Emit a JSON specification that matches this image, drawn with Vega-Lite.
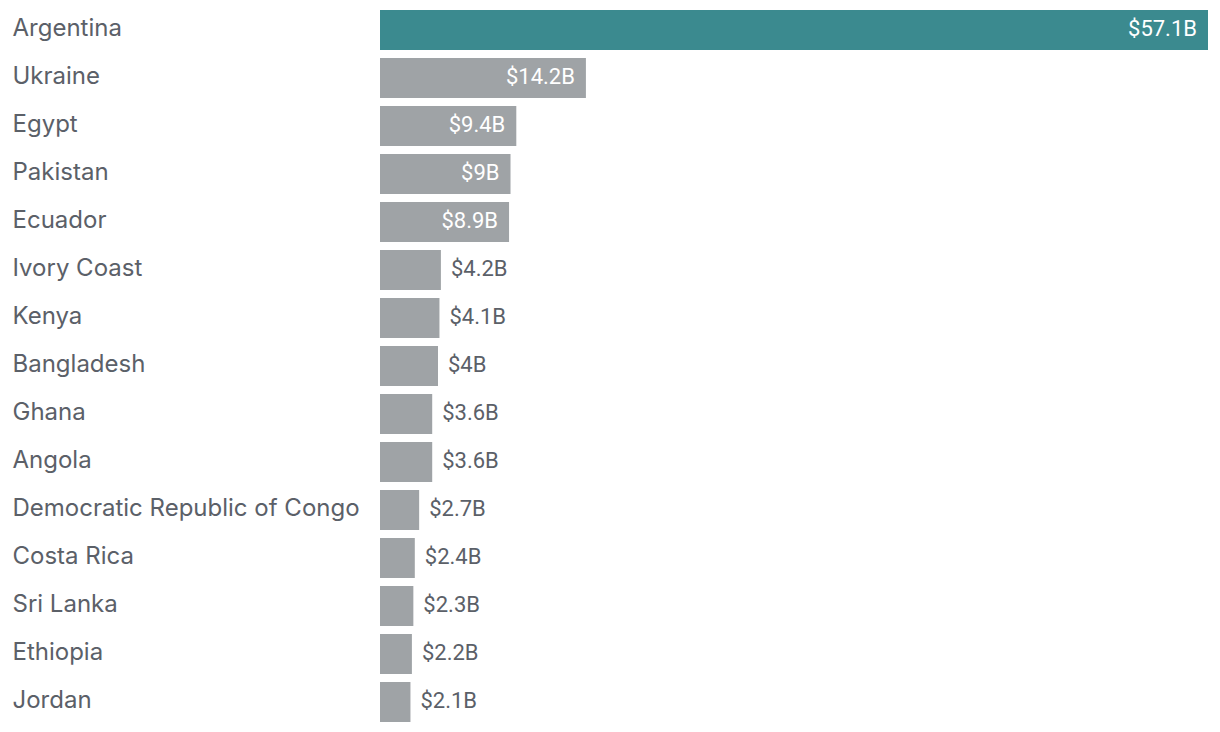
{
  "$schema": "https://vega.github.io/schema/vega-lite/v6.json",
  "autosize": {"type": "none"},
  "width": 828,
  "height": 720,
  "padding": {"left": 380, "top": 6, "right": 12, "bottom": 6},
  "background": "white",
  "config": {"view": {"stroke": null}, "font": "Inter"},
  "data": {"values": [
    {"country": "Argentina", "value": 57.1, "label": "$57.1B"},
    {"country": "Ukraine", "value": 14.2, "label": "$14.2B"},
    {"country": "Egypt", "value": 9.4, "label": "$9.4B"},
    {"country": "Pakistan", "value": 9.0, "label": "$9B"},
    {"country": "Ecuador", "value": 8.9, "label": "$8.9B"},
    {"country": "Ivory Coast", "value": 4.2, "label": "$4.2B"},
    {"country": "Kenya", "value": 4.1, "label": "$4.1B"},
    {"country": "Bangladesh", "value": 4.0, "label": "$4B"},
    {"country": "Ghana", "value": 3.6, "label": "$3.6B"},
    {"country": "Angola", "value": 3.6, "label": "$3.6B"},
    {"country": "Democratic Republic of Congo", "value": 2.7, "label": "$2.7B"},
    {"country": "Costa Rica", "value": 2.4, "label": "$2.4B"},
    {"country": "Sri Lanka", "value": 2.3, "label": "$2.3B"},
    {"country": "Ethiopia", "value": 2.2, "label": "$2.2B"},
    {"country": "Jordan", "value": 2.1, "label": "$2.1B"}
  ]},
  "encoding": {
    "y": {
      "field": "country", "type": "nominal", "sort": null,
      "scale": {"paddingInner": 0.1667, "paddingOuter": 0.0833},
      "axis": {
        "title": null, "ticks": false, "domain": false, "labelAlign": "left",
        "labelPadding": 368, "labelFontSize": 24, "labelColor": "#5b6068",
        "labelFont": "Inter", "labelFontWeight": 400, "labelLimit": 400, "labelOffset": -1
      }
    },
    "x": {
      "field": "value", "type": "quantitative",
      "scale": {"domain": [0, 57.1], "nice": false},
      "axis": null
    }
  },
  "layer": [
    {
      "mark": {"type": "bar"},
      "encoding": {
        "color": {
          "condition": {"test": "datum.country === 'Argentina'", "value": "#3b8a8f"},
          "value": "#9fa3a6"
        }
      }
    },
    {
      "transform": [{"filter": "datum.value >= 5"}],
      "mark": {"type": "text", "align": "right", "baseline": "middle", "dx": -11, "dy": -1, "fontSize": 22, "color": "white", "font": "Roboto"},
      "encoding": {"text": {"field": "label"}}
    },
    {
      "transform": [{"filter": "datum.value < 5"}],
      "mark": {"type": "text", "align": "left", "baseline": "middle", "dx": 10, "dy": -1, "fontSize": 22, "color": "#5b6068", "font": "Roboto"},
      "encoding": {"text": {"field": "label"}}
    }
  ]
}
